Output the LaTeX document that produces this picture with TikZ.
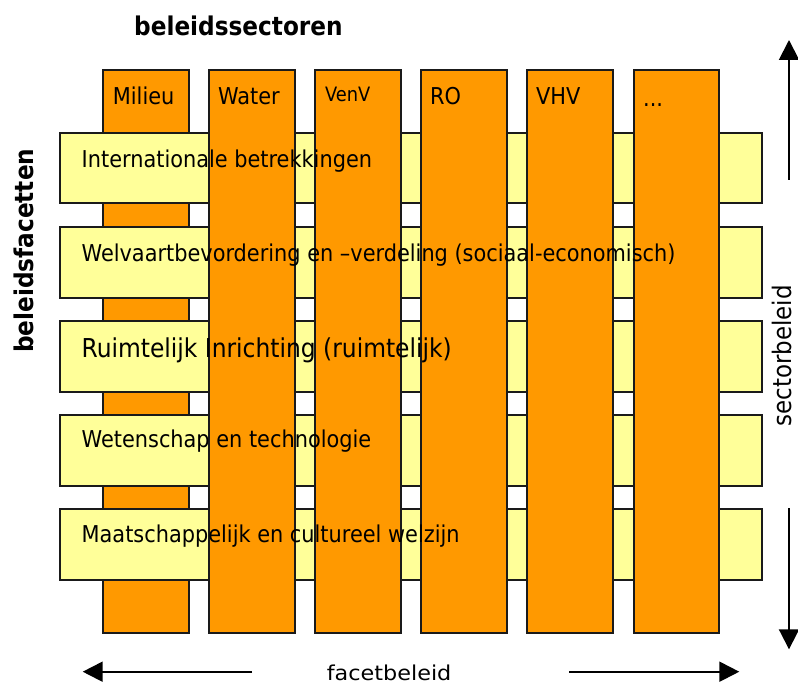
\documentclass[tikz,border=0pt]{standalone}
\usepackage{fontspec}
\setmainfont{DejaVu Sans Condensed}[BoldFont={DejaVu Sans Condensed Bold}]
\usetikzlibrary{arrows.meta}

\definecolor{sectororange}{HTML}{FF9900}
\definecolor{facetyellow}{HTML}{FFFF99}
\definecolor{outline}{HTML}{1A1A1A}

\tikzset{
  sectorbar/.style={draw=outline, line width=2pt, fill=sectororange,
    minimum width=85.5pt, minimum height=563pt, anchor=north west,
    inner sep=0pt, outer sep=0pt},
  facetbar/.style={draw=outline, line width=2pt, fill=facetyellow,
    minimum width=701.4pt, minimum height=70.8pt, anchor=north west,
    inner sep=0pt, outer sep=0pt},
  bartext/.style={anchor=base west, inner sep=0pt,
    font=\fontsize{23.2}{28}\selectfont},
  bigbartext/.style={anchor=base west, inner sep=0pt,
    font=\fontsize{26}{31}\selectfont},
  collabel/.style={anchor=base west, inner sep=0pt,
    font=\fontsize{23.2}{28}\selectfont},
  heading/.style={anchor=base west, inner sep=0pt,
    font=\bfseries\fontsize{25.8}{31}\selectfont},
  axislabel/.style={anchor=base west, inner sep=0pt,
    font=\fontsize{25.5}{30}\selectfont},
  axisarrow/.style={-{Triangle[length=20pt,width=20pt]}, line width=2pt, draw=black},
}

\begin{document}
\begin{tikzpicture}[x=1pt,y=-1pt]
\useasboundingbox (0,0) rectangle (798,687);

% first sector column lies underneath the facet bars
\node[sectorbar] (milieu) at (103,70) {};

% policy facets
\node[facetbar] (fac1) at (60.3,132.7) {};
\node[facetbar] (fac2) at (60.3,226.8) {};
\node[facetbar] (fac3) at (60.3,320.9) {};
\node[facetbar] (fac4) at (60.3,415.0) {};
\node[facetbar] (fac5) at (60.3,509.1) {};

% remaining sector columns lie on top of the facet bars
\node[sectorbar] (water) at (209.1,70) {};
\node[sectorbar] (venv)  at (315.2,70) {};
\node[sectorbar] (ro)    at (421.3,70) {};
\node[sectorbar] (vhv)   at (527.4,70) {};
\node[sectorbar] (more)  at (633.5,70) {};

% sector names
\node[collabel] (lmilieu) at (112.7,105) {Milieu};
\node[collabel] (lwater)  at (218,105) {Water};
\node[collabel, font=\fontsize{19.8}{24}\selectfont] (lvenv) at (325,101.7) {VenV};
\node[collabel] (lro)     at (430,105) {RO};
\node[collabel] (lvhv)    at (536,105) {VHV};
\node[collabel] (lmore)   at (643,107) {...};

% facet names
\node[bartext]    (t1) at (81.5,167.7) {Internationale betrekkingen};
\node[bartext]    (t2) at (81.5,261.7) {Welvaartbevordering en –verdeling (sociaal-economisch)};
\node[bigbartext] (t3) at (81.5,357.3) {Ruimtelijk Inrichting (ruimtelijk)};
\node[bartext]    (t4) at (81.5,447.3) {Wetenschap en technologie};
\node[bartext]    (t5) at (81.5,542.3) {Maatschappelijk en cultureel welzijn};

% headings
\node[heading] (hsec) at (134,35.7) {beleidssectoren};
\node[heading, rotate=90] (hfac) at (33.3,353) {beleidsfacetten};

% axis labels
\node[axislabel, rotate=90] (lsector) at (791.7,426.7) {sectorbeleid};
\node[axislabel, font=\fontsize{20.5}{25}\selectfont] (lfacet) at (326.7,680)
  {\scalebox{1.21}[1]{facetbeleid}};

% axis arrows
\coordinate (upfrom)    at (789,180);
\coordinate (upto)      at (789,40);
\coordinate (downfrom)  at (789,508);
\coordinate (downto)    at (789,649.3);
\coordinate (leftfrom)  at (252,671.7);
\coordinate (leftto)    at (82.7,671.7);
\coordinate (rightfrom) at (569,671.7);
\coordinate (rightto)   at (739.3,671.7);
\draw[axisarrow] (upfrom) -- (upto);
\draw[axisarrow] (downfrom) -- (downto);
\draw[axisarrow] (leftfrom) -- (leftto);
\draw[axisarrow] (rightfrom) -- (rightto);
\end{tikzpicture}
\end{document}
